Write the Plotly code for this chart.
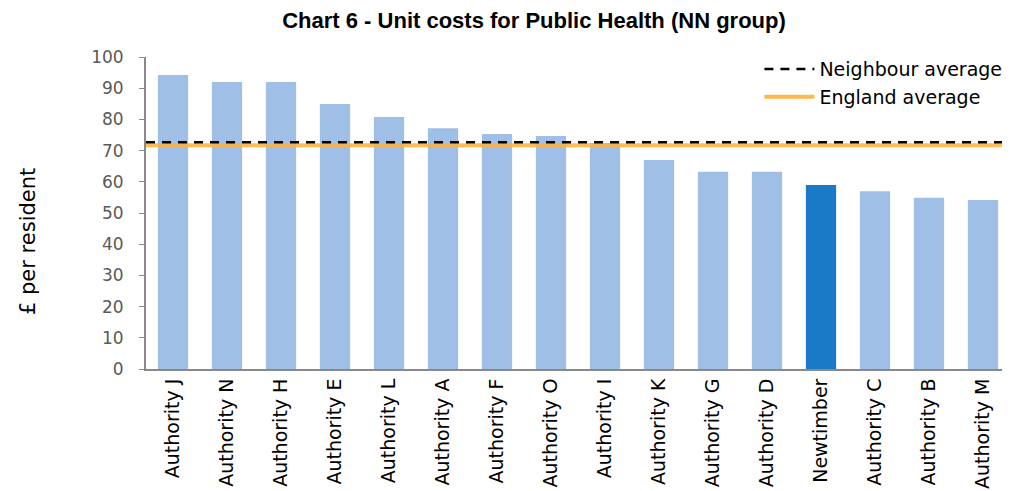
import plotly.graph_objects as go

categories = ["Authority J", "Authority N", "Authority H", "Authority E", "Authority L",
              "Authority A", "Authority F", "Authority O", "Authority I", "Authority K",
              "Authority G", "Authority D", "Newtimber", "Authority C", "Authority B",
              "Authority M"]
values = [94.2, 92.0, 92.0, 84.9, 80.8, 77.2, 75.3, 74.7, 72.4, 67.0, 63.2, 63.2,
          59.0, 57.0, 54.9, 54.2]
neighbour_average = 72.7
england_average = 71.7
highlight = "Newtimber"
y_ticks = [0, 10, 20, 30, 40, 50, 60, 70, 80, 90, 100]

bar_colors = ["#1A7AC7" if c == highlight else "#A0BFE6" for c in categories]

fig = go.Figure()
fig.add_trace(go.Bar(x=categories, y=values, marker=dict(color=bar_colors, line=dict(width=0)),
                     showlegend=False, hoverinfo="x+y"))

# Average lines spanning the full plot width
fig.add_shape(type="line", xref="paper", yref="y", x0=0, x1=1,
              y0=england_average, y1=england_average,
              line=dict(color="rgba(255,176,60,0.85)", width=4))
fig.add_shape(type="line", xref="paper", yref="y", x0=0, x1=1,
              y0=neighbour_average, y1=neighbour_average,
              line=dict(color="black", width=2.5, dash="9px,7px"))

# Legend entries
fig.add_trace(go.Scatter(x=[None], y=[None], mode="lines", name="Neighbour average",
                         line=dict(color="black", width=2.5, dash="9px,7px")))
fig.add_trace(go.Scatter(x=[None], y=[None], mode="lines", name="England average",
                         line=dict(color="#FFB74D", width=4)))

# page has an 8px body margin; figure is sized so the page layout matches
W, H = 1002, 483
L, T, B = 138, 49, 122
R = W - L - 864
pw, ph = 864, H - T - B

fig.update_layout(
    width=W, height=H,
    margin=dict(l=L, r=R, t=T, b=B, autoexpand=False),
    paper_bgcolor="white", plot_bgcolor="white",
    bargap=0.44,
    font=dict(family="DejaVu Sans, sans-serif", color="black"),
    title=dict(text="<b>Chart 6 - Unit costs for Public Health (NN group)</b>",
               x=526 / W, xanchor="center", yref="container", y=1 - 12 / H,
               yanchor="middle",
               font=dict(family="Liberation Sans, Arial, sans-serif", size=22, color="black")),
    legend=dict(x=0.997, xanchor="right", y=1.022, yanchor="top",
                font=dict(size=19, color="black"), bgcolor="rgba(255,255,255,0)",
                tracegroupgap=0, itemwidth=50),
    xaxis=dict(tickangle=-90, tickfont=dict(size=19, color="black"),
               showline=True, linecolor="#898989", linewidth=2, ticks="",
               showgrid=False, automargin=False),
    yaxis=dict(range=[0, 100], tickvals=y_ticks, tickfont=dict(size=17, color="#595959"),
               showline=True, linecolor="#898989", linewidth=2, ticks="outside",
               tickcolor="#898989", ticklen=5, showgrid=False, zeroline=False,
               ticklabelstandoff=12, automargin=False),
    annotations=[dict(text="£ per resident", xref="paper", yref="paper",
                      x=(20 - L) / pw, y=(361 - 234) / ph, xanchor="center",
                      yanchor="middle", textangle=-90, showarrow=False,
                      font=dict(size=21, color="black"))],
)

fig.write_html("out.html")
